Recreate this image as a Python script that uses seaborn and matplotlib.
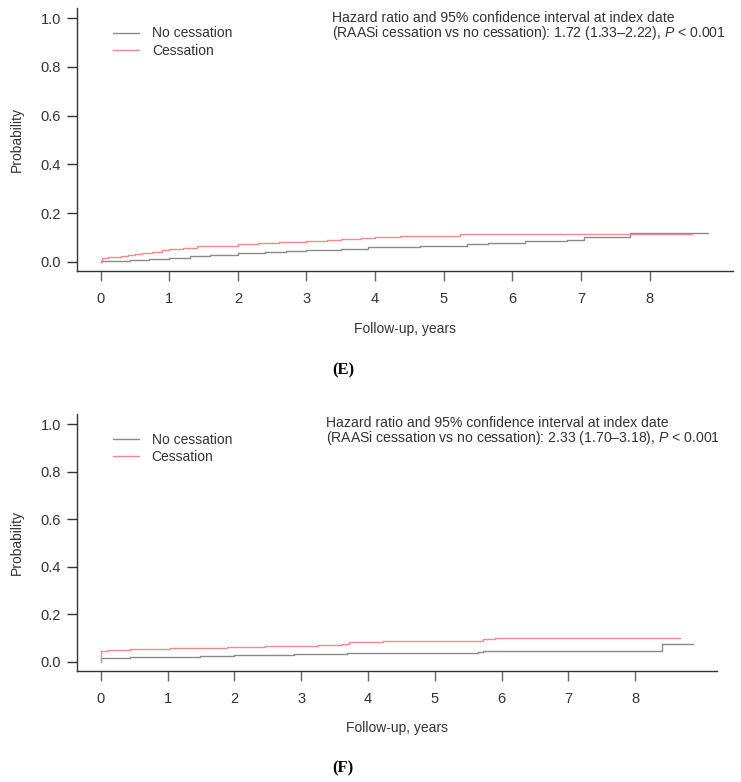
import numpy as np
import pandas as pd
import seaborn as sns
import matplotlib.pyplot as plt

# Panel E: cumulative incidence (step data)
e_no_time = [0, 0.01, 0.43, 0.7, 1.0, 1.3, 1.6, 2.0, 2.4, 2.7, 3.0, 3.5, 3.9,
             4.66, 5.34, 5.65, 6.18, 6.8, 7.05, 7.72, 8.85]
e_no_prob = [0, 0.005, 0.010, 0.014, 0.018, 0.024, 0.029, 0.036, 0.041, 0.045,
             0.049, 0.054, 0.062, 0.067, 0.072, 0.078, 0.085, 0.092, 0.101,
             0.119, 0.119]
e_ces_time = [0, 0.02, 0.1, 0.2, 0.3, 0.4, 0.5, 0.6, 0.75, 0.9, 1.0, 1.2, 1.4,
              1.6, 2.0, 2.3, 2.6, 3.0, 3.3, 3.5, 3.8, 4.0, 4.36, 5.24, 8.62]
e_ces_prob = [0, 0.015, 0.020, 0.022, 0.025, 0.028, 0.033, 0.036, 0.042, 0.048,
              0.053, 0.058, 0.064, 0.067, 0.072, 0.076, 0.080, 0.086, 0.090,
              0.096, 0.099, 0.102, 0.108, 0.114, 0.114]

# Panel F
f_no_time = [0, 0.005, 0.44, 1.49, 1.99, 2.89, 3.68, 5.65, 5.73, 8.41, 8.86]
f_no_prob = [0, 0.018, 0.022, 0.026, 0.030, 0.034, 0.037, 0.041, 0.045, 0.076,
             0.076]
f_ces_time = [0, 0.005, 0.11, 0.44, 1.04, 1.89, 2.46, 2.76, 3.26, 3.61, 3.71,
              4.23, 5.72, 5.9, 8.67]
f_ces_prob = [0, 0.046, 0.050, 0.055, 0.058, 0.062, 0.066, 0.068, 0.072, 0.075,
              0.082, 0.088, 0.095, 0.100, 0.100]

groups = ["No cessation", "Cessation"]
x_ticks = list(range(0, 9))
y_ticks = [0.0, 0.2, 0.4, 0.6, 0.8, 1.0]
hr_text = {
    "E": "1.72 (1.33\u20132.22)",
    "F": "2.33 (1.70\u20133.18)",
}

sns.set_style("ticks")
plt.rcParams["font.family"] = ["Liberation Sans", "DejaVu Sans"]
plt.rcParams["mathtext.fontset"] = "custom"
plt.rcParams["mathtext.rm"] = "Liberation Sans"
plt.rcParams["mathtext.it"] = "Liberation Sans:italic"

palette = {"No cessation": "#8a8a8a", "Cessation": "#f28a8a"}
dark = "#333333"

W, H = 741, 782
fig = plt.figure(figsize=(W / 100, H / 100), dpi=100)


def make_df(no_t, no_p, ces_t, ces_p):
    df1 = pd.DataFrame({"time": no_t, "prob": no_p, "group": groups[0]})
    df2 = pd.DataFrame({"time": ces_t, "prob": ces_p, "group": groups[1]})
    return pd.concat([df1, df2], ignore_index=True)


def px_axes(left, top, right, bottom):
    return fig.add_axes([left / W, 1 - bottom / H, (right - left) / W, (bottom - top) / H])


panels = [
    # name, axes box (px), xlim, ylim, data, text pos (x, top y), legend anchor
    ("E", (77, 8, 733, 271), (-0.345, 9.217), (-0.037, 1.041),
     make_df(e_no_time, e_no_prob, e_ces_time, e_ces_prob), (3.37, 1.029),
     (0.055, 0.93), 329, 370),
    ("F", (77, 414, 717, 671), (-0.355, 9.226), (-0.038, 1.043),
     make_df(f_no_time, f_no_prob, f_ces_time, f_ces_prob), (3.37, 1.034),
     (0.056, 0.928), 728, 768),
]

for name, box, xlim, ylim, df, tpos, lpos, xlab_y, tag_y in panels:
    ax = px_axes(*box)
    sns.lineplot(data=df, x="time", y="prob", hue="group", hue_order=groups,
                 palette=palette, estimator=None, sort=False,
                 drawstyle="steps-post", linewidth=1.0, ax=ax)
    ax.set_xlim(*xlim)
    ax.set_ylim(*ylim)
    ax.set_xticks(x_ticks)
    ax.set_yticks(y_ticks)
    ax.set_yticklabels([f"{v:.1f}" for v in y_ticks])
    ax.set_xlabel("")
    ax.set_ylabel("")
    sns.despine(ax=ax)
    for s in ["left", "bottom"]:
        ax.spines[s].set_color(dark)
        ax.spines[s].set_linewidth(1.0)
    ax.tick_params(axis="y", length=7, width=1, color=dark, pad=4.5,
                   labelsize=10.5, labelcolor=dark)
    ax.tick_params(axis="x", length=7, width=1, color="#666666", pad=8,
                   labelsize=10.5, labelcolor=dark)

    leg = ax.legend(loc="upper left", bbox_to_anchor=lpos, frameon=False,
                    fontsize=10, handlelength=1.85, handletextpad=0.95,
                    labelspacing=0.25, borderpad=0, borderaxespad=0)
    for t in leg.get_texts():
        t.set_color(dark)

    ax.text(tpos[0], tpos[1],
            "Hazard ratio and 95% confidence interval at index date\n"
            "(RAASi cessation vs no cessation): " + hr_text[name] + r", $\it{P}$ < 0.001",
            fontsize=10.1, color=dark, va="top", ha="left", linespacing=0.9)

    cx = (box[0] + box[2]) / 2
    fig.text(cx / W, 1 - xlab_y / H, "Follow-up, years", ha="center", va="center",
             fontsize=10, color=dark)
    fig.text(16.5 / W, 1 - ((box[1] + box[3]) / 2) / H, "Probability", rotation=90,
             ha="center", va="center", fontsize=10, color=dark)
    fig.text(343 / W, 1 - tag_y / H, f"({name})", ha="center", va="center",
             fontsize=12, family="Liberation Serif", weight="bold", color="black")

fig.savefig("out.png", dpi=100)
